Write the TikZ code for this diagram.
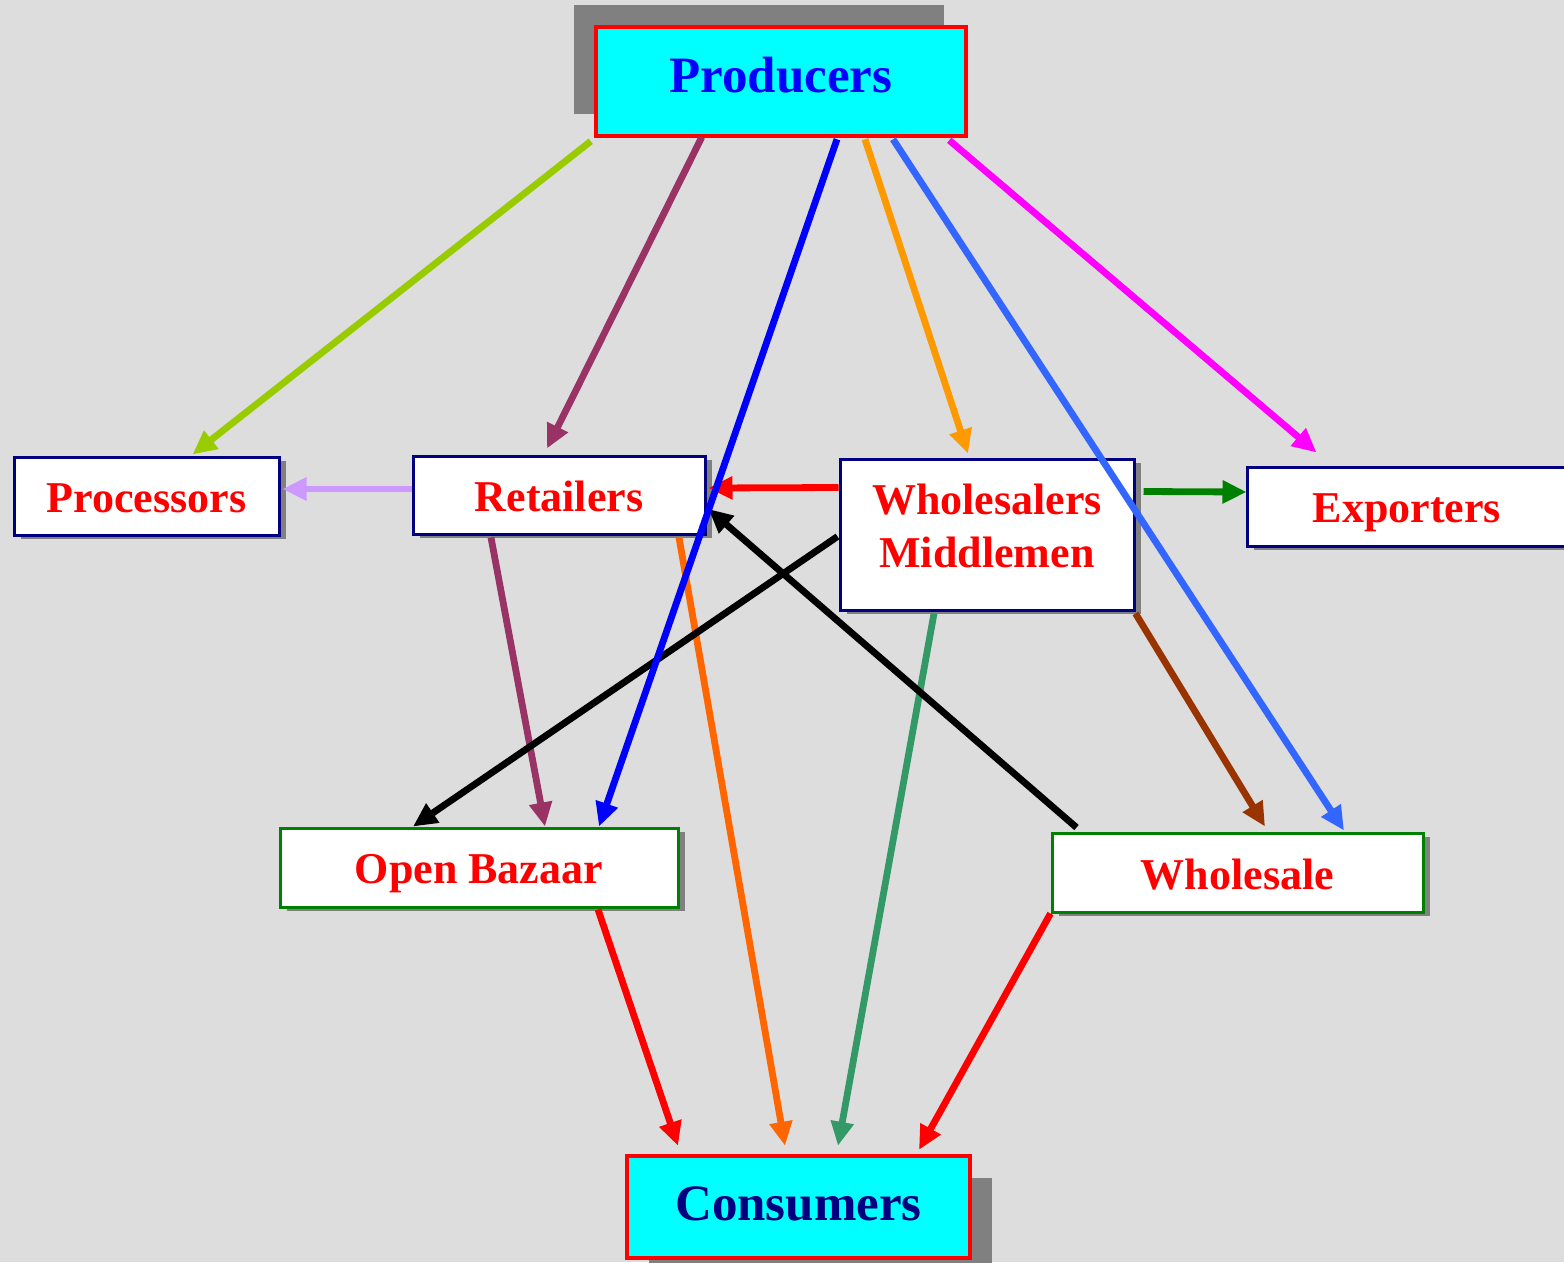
\documentclass[tikz,border=0pt]{standalone}
\usepackage{fontspec}
\setmainfont{Liberation Serif}
\usetikzlibrary{arrows.meta,calc,shadows}
\definecolor{bg}{HTML}{DDDDDD}
\definecolor{shgray}{HTML}{808080}
\definecolor{navybd}{HTML}{000080}
\definecolor{greenbd}{HTML}{008000}
\definecolor{cyanfill}{HTML}{00FFFF}
\definecolor{lime}{HTML}{99CC00}
\definecolor{plum}{HTML}{993366}
\definecolor{pureblue}{HTML}{0000FF}
\definecolor{orangeA}{HTML}{FF9900}
\definecolor{blueB}{HTML}{3366FF}
\definecolor{magentaA}{HTML}{FF00FF}
\definecolor{lavender}{HTML}{CC99FF}
\definecolor{pured}{HTML}{FF0000}
\definecolor{greenA}{HTML}{008000}
\definecolor{orangeB}{HTML}{FF6600}
\definecolor{seagreen}{HTML}{339966}
\definecolor{brownA}{HTML}{993300}
\begin{document}
\begin{tikzpicture}[x=1pt,y=-1pt,
  smallfont/.style={font=\fontsize{44}{53}\selectfont\bfseries},
  basebox/.style={inner sep=0pt, text depth=0pt},
  smshadow/.style={drop shadow={shadow xshift=7pt,shadow yshift=-4pt,fill=shgray,opacity=1}},
  box/.style={basebox, smallfont, draw=navybd, line width=3pt, fill=white, text=pured, smshadow},
  gbox/.style={basebox, smallfont, draw=greenbd, line width=3pt, fill=white, text=pured, smshadow},
  bigbox/.style={basebox, font=\fontsize{51}{60}\selectfont\bfseries, draw=pured, line width=4.5pt, fill=cyanfill},
  wtxt/.style={smallfont, text=pured, inner sep=0pt},
  arr/.style={line width=6.8pt, -{Triangle[length=24pt,width=22pt]}}
]
\fill[bg] (0,0) rectangle (1564,1262);
\useasboundingbox (0,0) rectangle (1564,1262);

% nodes
\node[bigbox, text=pureblue, text height=21pt, minimum width=370pt, minimum height=109pt,
  drop shadow={shadow xshift=-22pt,shadow yshift=22pt,fill=shgray,opacity=1}] (prod) at (781,81.5) {Producers};
\node[box, text height=32pt, minimum width=265pt, minimum height=78pt] (proc) at (146.5,496) {Processors};
\node[box, text height=32pt, minimum width=292pt, minimum height=78pt] (ret) at (559,495) {Retailers};
\node[box, minimum width=294pt, minimum height=151pt] (whol) at (987,534.5) {};
\node[wtxt, align=center] (wholtxt) at (987,525.5) {Wholesalers\\Middlemen};
\node[box, text height=31pt, minimum width=320pt, minimum height=79pt] (exp) at (1407,506.5) {Exporters};
\node[gbox, text height=31pt, minimum width=398pt, minimum height=79pt] (ob) at (479,867.5) {Open Bazaar};
\node[gbox, text height=33pt, minimum width=371pt, minimum height=79pt] (ws) at (1237.5,872.5) {Wholesale};
\node[bigbox, text=navybd, text height=26pt, minimum width=343pt, minimum height=102pt,
  drop shadow={shadow xshift=22pt,shadow yshift=-22pt,fill=shgray,opacity=1}] (cons) at (798.5,1207) {Consumers};

% connectors
\draw[arr, lime] ($(prod.south west)+(-3,3)$) -- ($(proc.north)+(46,-1)$);
\draw[arr, plum] ($(prod.south west)+(108,-1)$) -- ($(ret.north)+(-12,-6)$);
\draw[arr, orangeA] ($(prod.south)+(84,1)$) -- ($(whol.north)+(-19,-4)$);
\draw[arr, blueB] ($(prod.south)+(112,1)$) -- ($(ws.north)+(106.5,-1)$);
\draw[arr, magentaA] ($(prod.south east)+(-19,2)$) -- ($(exp.north west)+(71,-13)$);
\draw[arr, lavender] ($(ret.west)+(0,-6)$) -- ($(proc.east)+(2,-7)$);
\draw[arr, pured] ($(whol.west)+(0,-47)$) -- ($(ret.east)+(2,-7)$);
\draw[arr, greenA] ($(whol.east)+(8,-43)$) -- ($(exp.west)+(1,-14.5)$);
\draw[arr, plum] ($(ret.south)+(-68,2)$) -- ($(ob.north)+(66,0)$);
\draw[arr, orangeB] ($(ret.south)+(120,2)$) -- ($(cons.north)+(-13.5,-8)$);
\draw[arr, seagreen] ($(whol.south)+(-53,2)$) -- ($(cons.north)+(39.5,-8)$);
\draw[arr, brownA] ($(whol.south east)+(0,2)$) -- ($(ws.north)+(27.5,-5)$);
\draw[arr, black] ($(whol.west)+(-1,2)$) -- ($(ob.north)+(-66,0)$);
\draw[arr, black] ($(ws.north west)+(26,-4)$) -- ($(ret.east)+(2,14)$);
\draw[arr, pureblue] ($(prod.south)+(56,1)$) -- ($(ob.north)+(120,0)$);
\draw[arr, pured] ($(ob.south)+(119,1)$) -- ($(cons.north)+(-120.5,-8)$);
\draw[arr, pured] ($(ws.south west)+(0,0)$) -- ($(cons.north)+(120.5,-4)$);
\end{tikzpicture}
\end{document}
